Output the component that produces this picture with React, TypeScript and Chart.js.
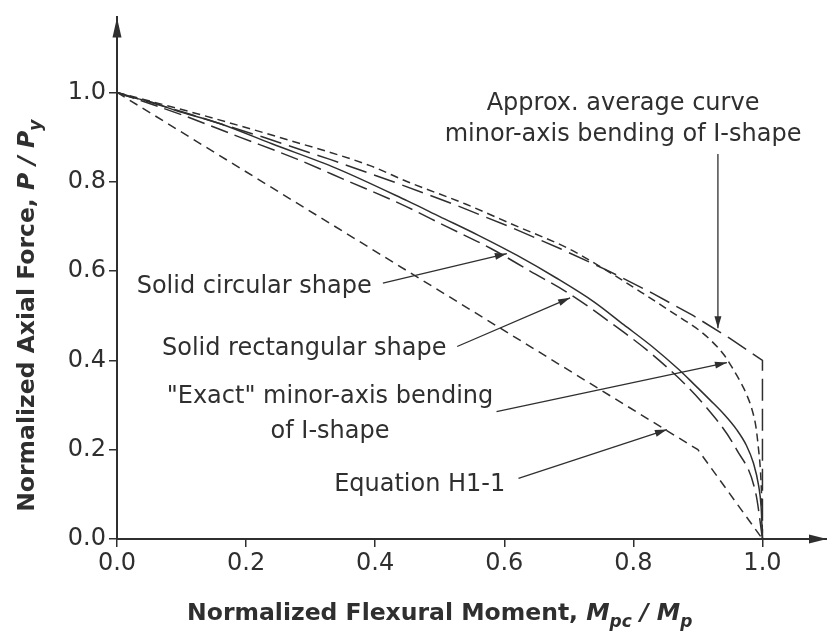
import React, { useEffect, useRef } from 'react';
import { Chart, registerables } from 'chart.js';

Chart.register(...registerables);

const FONT = '"DejaVu Sans", "Liberation Sans", sans-serif';
const INK = '#2f2f2f';

// tick values
const xTicks = [0, 0.2, 0.4, 0.6, 0.8, 1.0];
const yTicks = [0, 0.2, 0.4, 0.6, 0.8, 1.0];

// Equation H1-1 (M/Mp, P/Py)
const h1M = [0, 0.9, 1.0];
const h1P = [1.0, 0.2, 0.0];

// Solid circular shape
const circM = [0, 0.02, 0.05, 0.09, 0.16, 0.24, 0.34, 0.45, 0.5, 0.56, 0.62, 0.68, 0.74, 0.785, 0.83, 0.87, 0.893, 0.919, 0.94, 0.96, 0.975, 0.986, 0.994, 0.998, 1.0];
const circP = [1.0, 0.99, 0.98, 0.96, 0.93, 0.885, 0.83, 0.757, 0.722, 0.68, 0.635, 0.585, 0.53, 0.48, 0.43, 0.38, 0.348, 0.311, 0.28, 0.245, 0.21, 0.17, 0.12, 0.07, 0.0];

// Solid rectangular shape
const rectM = [0, 0.1, 0.19, 0.28, 0.36, 0.44, 0.51, 0.58, 0.64, 0.7, 0.75, 0.84, 0.91, 0.96, 0.99, 1.0];
const rectP = [1.0, 0.95, 0.9, 0.85, 0.8, 0.75, 0.7, 0.65, 0.6, 0.55, 0.5, 0.4, 0.3, 0.2, 0.1, 0.0];

// "Exact" minor-axis bending of I-shape
const exactM = [0, 0.13, 0.25, 0.392, 0.45, 0.54, 0.62, 0.7, 0.76, 0.815, 0.868, 0.905, 0.922, 0.94, 0.953, 0.965, 0.975, 0.984, 0.99, 0.994, 0.997, 0.999, 1.0];
const exactP = [1.0, 0.95, 0.9, 0.836, 0.8, 0.75, 0.7, 0.65, 0.6, 0.55, 0.5, 0.464, 0.442, 0.413, 0.384, 0.354, 0.325, 0.289, 0.25, 0.2, 0.15, 0.08, 0.0];

// Approx. average curve, minor-axis bending of I-shape
const approxM = [0, 0.116, 0.226, 0.33, 0.428, 0.521, 0.607, 0.687, 0.762, 0.83, 0.893, 0.949, 1.0, 1.0];
const approxP = [1.0, 0.95, 0.9, 0.85, 0.8, 0.75, 0.7, 0.65, 0.6, 0.55, 0.5, 0.45, 0.4, 0.0];

// annotations (data coordinates)
const noteText = [
  ['Approx. average curve', 'minor-axis bending of I-shape'],
  ['Solid circular shape'],
  ['Solid rectangular shape'],
  ['"Exact" minor-axis bending', 'of I-shape'],
  ['Equation H1-1'],
];
const noteX = [0.784, 0.0305, 0.0697, 0.33, 0.469];
const noteBaseY = [[0.96, 0.891], [0.55], [0.412], [0.304, 0.227], [0.107]];
const noteAlign = ['center', 'left', 'left', 'center', 'center'];
const leaderFrom = [[0.931, 0.862], [0.412, 0.573], [0.527, 0.431], [0.588, 0.285], [0.622, 0.136]];
const leaderTo = [[0.931, 0.472], [0.604, 0.639], [0.702, 0.54], [0.945, 0.395], [0.852, 0.245]];

const pts = (xs: number[], ys: number[]) => xs.map((v, i) => ({ x: v, y: ys[i] }));

function drawRich(ctx: CanvasRenderingContext2D, parts: { t: string; italic?: boolean; sub?: boolean }[], size: number, subSize: number) {
  const fontFor = (p: any) => `${p.italic ? 'italic ' : ''}bold ${p.sub ? subSize : size}px ${FONT}`;
  let total = 0;
  const widths = parts.map((p) => {
    ctx.font = fontFor(p);
    const w = ctx.measureText(p.t).width;
    total += w;
    return w;
  });
  let cx = -total / 2;
  parts.forEach((p, i) => {
    ctx.font = fontFor(p);
    ctx.fillText(p.t, cx, p.sub ? size * 0.3 : 0);
    cx += widths[i];
  });
}

const annotate = {
  id: 'annotate',
  afterDraw(chart: any) {
    const { ctx, chartArea } = chart;
    const sx = chart.scales.x;
    const sy = chart.scales.y;
    const px = (v: number) => sx.getPixelForValue(v);
    const py = (v: number) => sy.getPixelForValue(v);
    ctx.save();
    ctx.fillStyle = INK;
    ctx.strokeStyle = INK;

    // axis arrowheads
    const ox = px(0);
    const oy = py(0);
    ctx.beginPath();
    ctx.moveTo(ox, chartArea.top);
    ctx.lineTo(ox - 4.5, chartArea.top + 20);
    ctx.lineTo(ox + 4.5, chartArea.top + 20);
    ctx.closePath();
    ctx.fill();
    ctx.beginPath();
    ctx.moveTo(chartArea.right, oy);
    ctx.lineTo(chartArea.right - 18, oy - 4.5);
    ctx.lineTo(chartArea.right - 18, oy + 4.5);
    ctx.closePath();
    ctx.fill();

    // leader lines
    ctx.lineWidth = 1.3;
    leaderFrom.forEach((f, i) => {
      const t = leaderTo[i];
      const x0 = px(f[0]);
      const y0 = py(f[1]);
      const x1 = px(t[0]);
      const y1 = py(t[1]);
      ctx.beginPath();
      ctx.moveTo(x0, y0);
      ctx.lineTo(x1, y1);
      ctx.stroke();
      const a = Math.atan2(y1 - y0, x1 - x0);
      const L = 12;
      const W = 3.5;
      ctx.beginPath();
      ctx.moveTo(x1, y1);
      ctx.lineTo(x1 - L * Math.cos(a) + W * Math.sin(a), y1 - L * Math.sin(a) - W * Math.cos(a));
      ctx.lineTo(x1 - L * Math.cos(a) - W * Math.sin(a), y1 - L * Math.sin(a) + W * Math.cos(a));
      ctx.closePath();
      ctx.fill();
    });

    // note texts
    ctx.font = `24px ${FONT}`;
    ctx.textBaseline = 'alphabetic';
    noteText.forEach((lines, i) => {
      ctx.textAlign = noteAlign[i] as CanvasTextAlign;
      lines.forEach((s, j) => {
        ctx.fillText(s, px(noteX[i]), py(noteBaseY[i][j]));
      });
    });

    // axis titles
    ctx.textAlign = 'left';
    ctx.save();
    ctx.translate(px(0.5), 620);
    drawRich(ctx, [
      { t: 'Normalized Flexural Moment, ' },
      { t: 'M', italic: true },
      { t: 'pc', italic: true, sub: true },
      { t: ' / ', italic: true },
      { t: 'M', italic: true },
      { t: 'p', italic: true, sub: true },
    ], 23.5, 17);
    ctx.restore();

    ctx.save();
    ctx.translate(33.5, py(0.5));
    ctx.rotate(-Math.PI / 2);
    drawRich(ctx, [
      { t: 'Normalized Axial Force, ' },
      { t: 'P', italic: true },
      { t: ' / ', italic: true },
      { t: 'P', italic: true },
      { t: 'y', italic: true, sub: true },
    ], 23.5, 17);
    ctx.restore();

    ctx.restore();
  },
};

export default function App() {
  const ref = useRef<HTMLCanvasElement>(null);
  useEffect(() => {
    if (!ref.current) return;
    const line = (data: any, dash: number[], mono: boolean) => ({
      data,
      showLine: true,
      borderColor: INK,
      borderWidth: 1.5,
      borderDash: dash,
      pointRadius: 0,
      fill: false,
      cubicInterpolationMode: mono ? 'monotone' : 'default',
      tension: 0,
    });
    const chart = new Chart(ref.current, {
      type: 'scatter',
      data: {
        datasets: [
          { label: 'Equation H1-1', ...line(pts(h1M, h1P), [9, 6], false) },
          { label: 'Solid circular shape', ...line(pts(circM, circP), [], true) },
          { label: 'Solid rectangular shape', ...line(pts(rectM, rectP), [18, 7], true) },
          { label: '"Exact" minor-axis bending of I-shape', ...line(pts(exactM, exactP), [8, 5], true) },
          { label: 'Approx. average curve', ...line(pts(approxM, approxP), [22, 8], false) },
        ] as any,
      },
      options: {
        responsive: false,
        animation: false,
        devicePixelRatio: 1,
        layout: { padding: { top: 5, right: 0, left: 0, bottom: 0 } },
        plugins: { legend: { display: false }, tooltip: { enabled: false } },
        scales: {
          x: {
            type: 'linear',
            min: 0,
            max: 1.1,
            afterBuildTicks: (s: any) => { s.ticks = xTicks.map((v) => ({ value: v })); },
            afterFit: (s: any) => { s.height = 95; },
            grid: { drawOnChartArea: false, drawTicks: true, tickLength: 8, color: INK, lineWidth: 1.5 },
            border: { display: true, color: INK, width: 2 },
            ticks: {
              color: INK,
              font: { family: FONT, size: 24 },
              padding: 2,
              maxRotation: 0,
              callback: (v: any) => Number(v).toFixed(1),
            },
          },
          y: {
            type: 'linear',
            min: 0,
            max: 1.168,
            afterBuildTicks: (s: any) => { s.ticks = yTicks.map((v) => ({ value: v })); },
            afterFit: (s: any) => { s.width = 117; },
            grid: { drawOnChartArea: false, drawTicks: true, tickLength: 8, color: INK, lineWidth: 1.5 },
            border: { display: true, color: INK, width: 2 },
            ticks: {
              color: INK,
              font: { family: FONT, size: 24 },
              padding: 3,
              callback: (v: any) => Number(v).toFixed(1),
            },
          },
        },
      } as any,
      plugins: [annotate],
    });
    return () => chart.destroy();
  }, []);
  return (
    <div style={{ position: 'fixed', left: 0, top: 0, width: 827, height: 634, background: '#fff' }}>
      <canvas ref={ref} width={827} height={634} style={{ display: 'block' }} />
    </div>
  );
}
